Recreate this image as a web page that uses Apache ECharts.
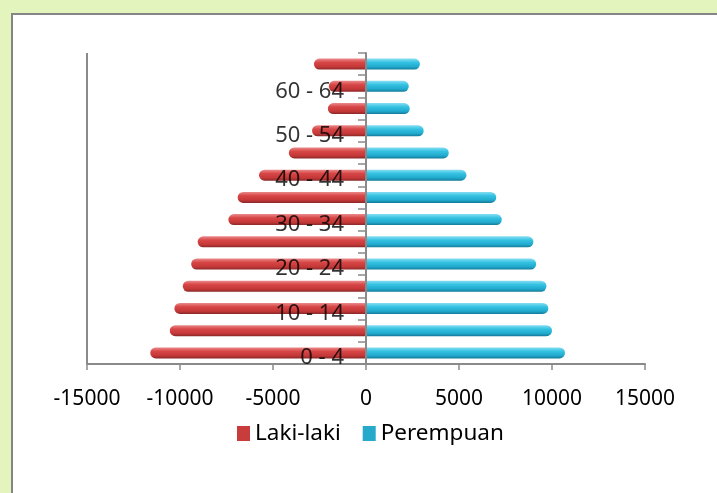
<!DOCTYPE html>
<html>
<head>
<meta charset="utf-8">
<script src="https://cdn.jsdelivr.net/npm/echarts@6/dist/echarts.min.js"></script>
<style>
  html, body { margin: 0; padding: 0; }
  #frame {
    position: relative; width: 717px; height: 493px; overflow: hidden;
    background: #e3f4bd;
  }
  #panel {
    position: absolute; left: 11px; top: 13px; width: 720px; height: 500px;
    background: #fff; border-left: 2px solid #858585; border-top: 2px solid #858585;
  }
  #chart { position: absolute; left: 0; top: 0; width: 717px; height: 493px; }
</style>
</head>
<body>
<div id="frame">
  <div id="panel"></div>
  <div id="chart"></div>
</div>
<script>
// age groups, bottom to top
const ageGroups = ["0 - 4", "5 - 9", "10 - 14", "15 - 19", "20 - 24", "25 - 29", "30 - 34",
  "35 - 39", "40 - 44", "45 - 49", "50 - 54", "55 - 59", "60 - 64", "65+"];
// Laki-laki plotted as negative values
const male = [-11600, -10550, -10300, -9850, -9400, -9050, -7400,
  -6900, -5750, -4150, -2900, -2050, -2000, -2800];
const female = [10700, 10000, 9800, 9700, 9150, 9000, 7300,
  7000, 5400, 4450, 3100, 2350, 2300, 2900];
const xTicks = { min: -15000, max: 15000, step: 5000 };

const FONT = "Noto Sans";

// category labels sit next to the zero line, every other group
const labelPoints = ageGroups.filter((g, i) => i % 2 === 0).map((g) => [0, g]);

const redFill = new echarts.graphic.LinearGradient(0, 0, 0, 1, [
  { offset: 0, color: "#ea8a8a" },
  { offset: 0.35, color: "#d84646" },
  { offset: 0.75, color: "#c43838" },
  { offset: 1, color: "#8a2828" },
]);
const blueFill = new echarts.graphic.LinearGradient(0, 0, 0, 1, [
  { offset: 0, color: "#86def2" },
  { offset: 0.35, color: "#35c2e2" },
  { offset: 0.75, color: "#20a9cd" },
  { offset: 1, color: "#157a98" },
]);

const chart = echarts.init(document.getElementById("chart"), null, { renderer: "canvas" });

chart.setOption({
  animation: false,
  textStyle: { fontFamily: FONT, color: "#000" },
  grid: { left: 87, right: 72, top: 53, bottom: 129 },
  legend: {
    left: 232, top: 417,
    itemWidth: 13, itemHeight: 15, itemGap: 22,
    textStyle: { fontFamily: FONT, fontSize: 22.5, color: "#000" },
    data: [
      { name: "Laki-laki", icon: "rect", itemStyle: { color: "#c83c3c" } },
      { name: "Perempuan", icon: "rect", itemStyle: { color: "#27a9cc" } },
    ],
  },
  xAxis: {
    type: "value",
    min: xTicks.min, max: xTicks.max, interval: xTicks.step,
    splitLine: { show: false },
    axisLine: { show: true, lineStyle: { color: "#8a8a8a", width: 2 } },
    axisTick: { show: true, length: 6, lineStyle: { color: "#8a8a8a", width: 1.5 } },
    axisLabel: {
      fontFamily: FONT, fontSize: 21, color: "#000", margin: 25,
      formatter: (v) => String(v),
    },
  },
  yAxis: {
    type: "category",
    data: ageGroups,
    axisLine: { onZero: true, lineStyle: { color: "#8a8a8a", width: 2 } },
    axisTick: { show: true, length: 8, lineStyle: { color: "#8a8a8a", width: 1.5 } },
    axisLabel: { show: false },
    z: 5,
  },
  series: [
    {
      name: "Laki-laki", type: "bar", data: male,
      barWidth: 11, barGap: "-100%",
      itemStyle: { color: redFill, borderRadius: [6, 0, 0, 6] },
      // left wall of the plot
      markLine: {
        silent: true, symbol: "none", label: { show: false },
        lineStyle: { color: "#8a8a8a", width: 2, type: "solid" },
        data: [{ xAxis: xTicks.min }],
      },
    },
    {
      name: "Perempuan", type: "bar", data: female,
      barWidth: 11, barGap: "-100%",
      itemStyle: { color: blueFill, borderRadius: [0, 6, 6, 0] },
    },
    {
      name: "labels", type: "scatter", data: labelPoints,
      symbolSize: 0, silent: true, z: 10,
      label: {
        show: true, position: "left", distance: 22, offset: [0, 5],
        fontFamily: FONT, fontSize: 22, color: "#000",
        formatter: (p) => p.value[1],
      },
    },
  ],
});
</script>
</body>
</html>
